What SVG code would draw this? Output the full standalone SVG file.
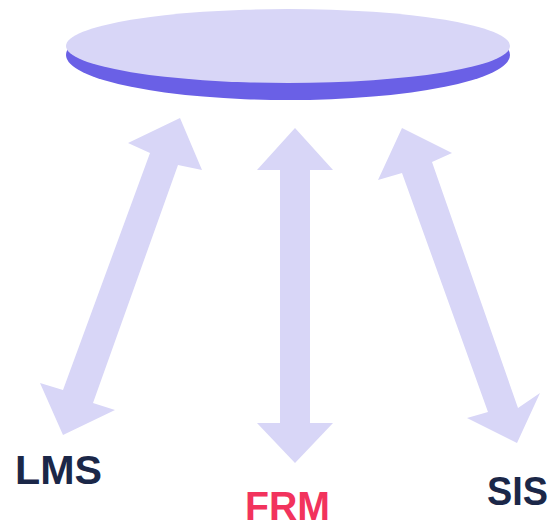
<svg xmlns="http://www.w3.org/2000/svg" width="555" height="529" viewBox="0 0 555 529">
<style>
.arrow{fill:#d8d6f7}
.lbl{font-family:"Liberation Sans",Arial,sans-serif;font-weight:bold;font-size:41px}
.dark{fill:#1b2748}
.red{fill:#f2335d}
</style>
<rect width="555" height="529" fill="#ffffff"/>
<g id="platform">
<ellipse cx="288" cy="55" rx="222" ry="45" fill="#6a60e6"/>
<ellipse cx="288" cy="46" rx="222" ry="37" fill="#d8d6f7"/>
</g>
<g id="connectors">
<polygon class="arrow" points="180,118 202,170 178,165 93,403 115,410 63,435 40,383 63,390 150,153 128,143"/>
<polygon class="arrow" points="295,128 333,170 310,170 310,423 333,423 295,463 257,423 280,423 280,170 257,170"/>
<polygon class="arrow" points="402,128 452,153 432,162 518,408 540,393 517,443 467,418 488,412 402,173 378,180"/>
</g>
<g id="lms"><text class="lbl dark" x="15" y="484" textLength="87" lengthAdjust="spacingAndGlyphs">LMS</text></g>
<g id="frm"><text class="lbl red" x="245" y="520" font-size="38" textLength="85" lengthAdjust="spacingAndGlyphs">FRM</text></g>
<g id="sis"><text class="lbl dark" x="487" y="505" textLength="61" lengthAdjust="spacingAndGlyphs">SIS</text></g>
</svg>
